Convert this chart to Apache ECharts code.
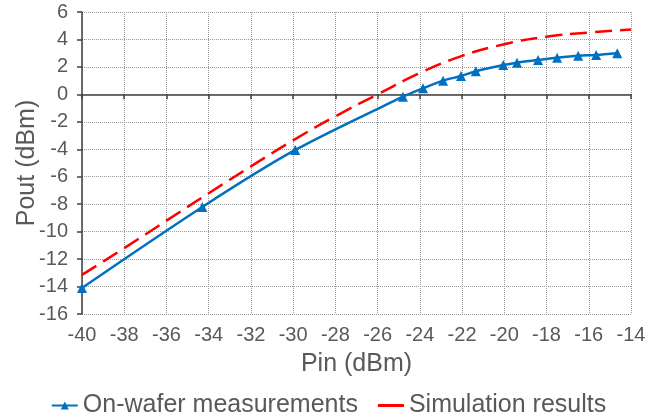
<!DOCTYPE html>
<html>
<head>
<meta charset="utf-8" />
<title>Pout vs Pin</title>
<script src="https://cdn.jsdelivr.net/npm/echarts@6/dist/echarts.min.js"></script>
<style>
	html, body { margin: 0; padding: 0; background: #fff; }
	#chart { width: 657px; height: 419px; }
</style>
</head>
<body>
<div id="chart"></div>
<script>
// measured points (Pin, Pout)
var measPin = [-40, -34.3, -29.9, -24.8, -23.85, -22.9, -22.05, -21.35, -20.05, -19.4, -18.4, -17.5, -16.5, -15.65, -14.65];
var measPout = [-14.1, -8.2, -4.05, -0.17, 0.44, 1.0, 1.34, 1.68, 2.14, 2.31, 2.5, 2.67, 2.82, 2.87, 2.99];

// simulation curve
var simPin = [-40, -38, -36, -34, -32, -30, -28, -26, -24, -22, -20, -18, -16, -14];
var simPout = [-13.15, -11.2, -9.2, -7.2, -5.25, -3.35, -1.6, 0.0, 1.55, 2.8, 3.65, 4.2, 4.5, 4.72];

var textColor = '#595959';
var fontName = 'Liberation Sans, Arial, sans-serif';

function pairs(xs, ys) {
	return xs.map(function(x, i) { return [x, ys[i]]; });
}

var chart = echarts.init(document.getElementById('chart'));
var option = {
	animation: false,
	textStyle: { fontFamily: fontName },
	grid: { left: 82, right: 26, top: 12, bottom: 105, outerBoundsMode: 'none' },
	legend: {
		top: 388,
		left: 'center',
		itemWidth: 26,
		itemHeight: 10,
		itemGap: 20,
		textStyle: { color: textColor, fontSize: 25, fontFamily: fontName },
		data: [
			{ name: 'On-wafer measurements' },
			// plain short red line in the key
			{ name: 'Simulation results', icon: 'path://M0,0 H26 V3 H0 Z', itemStyle: { color: '#FF0000' } }
		]
	},
	xAxis: {
		type: 'value',
		min: -40,
		max: -14,
		interval: 2,
		name: 'Pin (dBm)',
		nameLocation: 'middle',
		nameGap: 38,
		nameMoveOverlap: false,
		nameTextStyle: { color: textColor, fontSize: 25, fontFamily: fontName },
		axisLine: { lineStyle: { color: '#404040', width: 1.5 } },
		axisTick: { show: true, length: 5, lineStyle: { color: '#404040', width: 1.5 } },
		axisLabel: { color: textColor, fontSize: 20, margin: 11 },
		splitLine: { show: true, lineStyle: { color: '#999', type: 'dotted', width: 1 } }
	},
	yAxis: {
		type: 'value',
		min: -16,
		max: 6,
		interval: 2,
		name: 'Pout (dBm)',
		nameLocation: 'middle',
		nameGap: 42,
		nameMoveOverlap: false,
		nameTextStyle: { color: textColor, fontSize: 25, fontFamily: fontName },
		axisLine: { show: true, lineStyle: { color: '#404040', width: 1.5 } },
		axisTick: { show: true, length: 5, lineStyle: { color: '#404040', width: 1.5 } },
		axisLabel: { color: textColor, fontSize: 20, margin: 14 },
		splitLine: { show: true, lineStyle: { color: '#999', type: 'dotted', width: 1 } }
	},
	series: [
		{
			name: 'On-wafer measurements',
			type: 'line',
			data: pairs(measPin, measPout),
			smooth: 0.3,
			symbol: 'triangle',
			symbolSize: 10,
			lineStyle: { color: '#0070C0', width: 2.5 },
			itemStyle: { color: '#0070C0' },
			z: 3
		},
		{
			name: 'Simulation results',
			type: 'line',
			data: pairs(simPin, simPout),
			smooth: true,
			showSymbol: false,
			symbol: 'none',
			lineStyle: { color: '#FF0000', width: 2.5, type: [17, 8] },
			itemStyle: { color: '#FF0000' },
			z: 2
		}
	]
};
chart.setOption(option);
</script>
</body>
</html>
